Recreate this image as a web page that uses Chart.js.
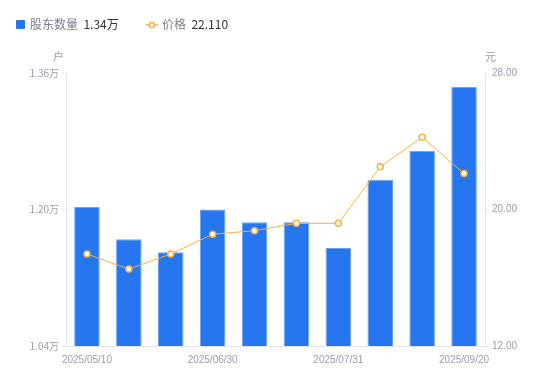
<!DOCTYPE html>
<html><head><meta charset="utf-8">
<script src="https://cdn.jsdelivr.net/npm/chart.js@4/dist/chart.umd.min.js"></script>
<style>
html,body{margin:0;padding:0;background:#fff;}
#wrap{position:relative;width:550px;height:381px;font-family:"Noto Sans CJK SC","Noto Sans",sans-serif;}
canvas{position:absolute;left:0;top:0;}
.lg{position:absolute;top:16px;font-size:12px;line-height:16px;white-space:nowrap;}
.t{position:absolute;font-size:11px;color:#9a9ca8;}
</style></head>
<body><div id="wrap">
<canvas id="c" width="550" height="381"></canvas>
<div class="lg" style="left:16px"><span style="display:inline-block;width:9px;height:9px;background:#2676f0;border-radius:1px;vertical-align:-0px;margin-right:5px"></span><span style="color:#7b7f8c">股东数量</span>&nbsp;&nbsp;<span style="color:#333">1.34万</span></div>
<div class="lg" style="left:146px"><svg width="12" height="10" style="vertical-align:-1px;margin-right:4px"><line x1="0" y1="5" x2="12" y2="5" stroke="#f9b13c" stroke-width="1.5"/><circle cx="6" cy="5" r="2.6" fill="#fff" stroke="#f9b13c" stroke-width="1.5"/></svg><span style="color:#7b7f8c">价格</span>&nbsp;&nbsp;<span style="color:#333">22.110</span></div>
<div class="t" style="left:53px;top:48px">户</div>
<div class="t" style="left:485px;top:48px">元</div>
</div>
<script>
const categories = ["2025/05/10","2025/05/20","2025/06/10","2025/06/30","2025/07/10","2025/07/20","2025/07/31","2025/08/20","2025/08/31","2025/09/20"];
const holders = [1.203, 1.165, 1.150, 1.200, 1.185, 1.185, 1.155, 1.235, 1.269, 1.344];
const prices = [17.39, 16.51, 17.39, 18.55, 18.76, 19.19, 19.19, 22.51, 24.23, 22.11];
const leftTicks = [1.04, 1.20, 1.36];
const rightTicks = [12, 20, 28];

const tickColor = '#9a9ca8';
const lineCol = '#e3e5ea';
new Chart(document.getElementById('c'), {
  data: {
    labels: categories,
    datasets: [
      {type:'line', data: prices, yAxisID:'y1', borderColor:'#f9b13c', borderWidth:1, pointRadius:3, pointHoverRadius:3,
       pointBorderWidth:1.5, pointBackgroundColor:'#fff', pointBorderColor:'#f9b13c', tension:0, order:0},
      {type:'bar', data: holders, yAxisID:'y', backgroundColor:'#2676f0', borderColor:'#6aa1f5', borderWidth:1,
       categoryPercentage:1, barPercentage:0.61, order:1}
    ]
  },
  options: {
    responsive:false, animation:false,
    layout:{padding:{top:73,left:0,right:0,bottom:0}},
    plugins:{legend:{display:false}, tooltip:{enabled:false}},
    scales:{
      x:{
        grid:{display:false}, border:{display:true,color:lineCol},
        ticks:{autoSkip:false, maxRotation:0, color:tickColor, font:{size:10, family:'"Liberation Sans", Arial, sans-serif'}, padding:0,
          callback:(v,i)=> i%3===0 ? categories[i] : ''},
        afterFit:s=>{s.height=35;}
      },
      y:{
        position:'left', min:1.04, max:1.36,
        afterBuildTicks:s=>{s.ticks=leftTicks.map(v=>({value:v}));},
        grid:{drawOnChartArea:false, tickLength:4, color:lineCol}, border:{color:lineCol},
        ticks:{color:tickColor, font:{size:10, family:'"Noto Sans CJK SC", sans-serif'}, padding:3, callback:v=>v.toFixed(2)+'万'},
        afterFit:s=>{s.width=66;}
      },
      y1:{
        position:'right', min:12, max:28,
        afterBuildTicks:s=>{s.ticks=rightTicks.map(v=>({value:v}));},
        grid:{drawOnChartArea:false, tickLength:4, color:lineCol}, border:{color:lineCol},
        ticks:{color:tickColor, font:{size:10, family:'"Liberation Sans", Arial, sans-serif'}, padding:3, callback:v=>v.toFixed(2)},
        afterFit:s=>{s.width=65;}
      }
    }
  }
});
</script>
</body></html>
